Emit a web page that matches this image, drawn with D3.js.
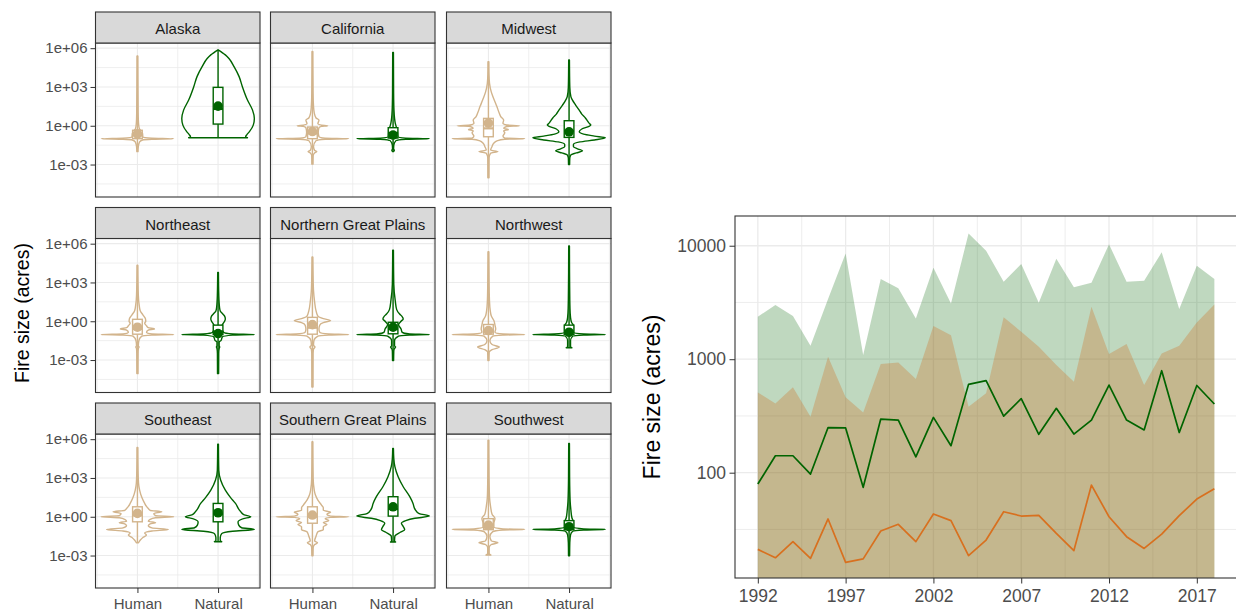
<!DOCTYPE html>
<html>
<head>
<meta charset="utf-8">
<script src="https://cdn.jsdelivr.net/npm/d3@7"></script>
<style>
  body { margin: 0; background: #fff; }
  svg { display: block; }
  text { font-family: "Liberation Sans", Arial, Helvetica, sans-serif; }
</style>
</head>
<body>
<svg id="chart" width="1236" height="612"></svg>
<script>
// ---------- Fire size distributions by region and cause (violins, log10 acres) ----------
const regions = ["Alaska", "California", "Midwest", "Northeast", "Northern Great Plains",
                 "Northwest", "Southeast", "Southern Great Plains", "Southwest"];
const causes = ["Human", "Natural"];
const sizeTicks = [1e-3, 1, 1e3, 1e6];

// Each profile: [log10(fire size), relative density width]
const humanViolins = [
  [[-2.0,0.015],[-1.6,0.025],[-1.25,0.06],[-1.1,0.14],[-1.04,0.4],[-1.0,1.0],[-0.96,0.4],[-0.88,0.15],[-0.6,0.14],[-0.4,0.1],[-0.2,0.05],[0.2,0.03],[1.0,0.02],[3.0,0.015],[5.4,0.01]],
  [[-2.97,0.015],[-2.3,0.02],[-2.1,0.06],[-2.0,0.12],[-1.9,0.06],[-1.6,0.03],[-1.15,0.1],[-1.04,0.35],[-1.0,1.0],[-0.96,0.35],[-0.85,0.18],[-0.5,0.16],[-0.15,0.18],[-0.05,0.25],[0.0,0.42],[0.05,0.25],[0.15,0.15],[0.45,0.18],[0.6,0.1],[1.0,0.05],[1.5,0.03],[2.5,0.018],[5.74,0.01]],
  [[-4.03,0.015],[-2.5,0.018],[-2.12,0.06],[-2.0,0.26],[-1.88,0.06],[-1.6,0.1],[-1.37,0.14],[-1.15,0.25],[-1.04,0.45],[-1.0,1.0],[-0.96,0.45],[-0.8,0.4],[-0.55,0.45],[-0.38,0.42],[-0.3,0.55],[-0.2,0.42],[-0.06,0.5],[0.0,0.86],[0.06,0.5],[0.2,0.4],[0.44,0.42],[0.7,0.34],[0.96,0.3],[1.5,0.23],[1.99,0.16],[2.6,0.08],[3.28,0.03],[4.0,0.015],[4.96,0.01]],
  [[-4.05,0.015],[-2.5,0.018],[-2.1,0.025],[-2.0,0.045],[-1.9,0.025],[-1.5,0.04],[-1.15,0.12],[-1.07,0.4],[-1.03,1.0],[-0.99,0.4],[-0.85,0.25],[-0.68,0.3],[-0.59,0.47],[-0.5,0.3],[-0.35,0.25],[-0.15,0.2],[0.0,0.23],[0.2,0.22],[0.5,0.15],[0.8,0.08],[1.2,0.05],[2.0,0.025],[4.33,0.01]],
  [[-5.08,0.015],[-2.5,0.018],[-2.15,0.03],[-2.0,0.07],[-1.85,0.03],[-1.5,0.04],[-1.15,0.15],[-1.07,0.45],[-1.03,1.0],[-0.99,0.45],[-0.85,0.2],[-0.6,0.18],[-0.3,0.2],[-0.1,0.3],[0.05,0.5],[0.2,0.3],[0.4,0.15],[0.8,0.1],[1.5,0.06],[2.36,0.03],[3.5,0.018],[4.97,0.01]],
  [[-3.03,0.015],[-2.4,0.02],[-2.2,0.1],[-2.0,0.3],[-1.8,0.1],[-1.5,0.04],[-1.15,0.12],[-1.07,0.4],[-1.03,1.0],[-0.99,0.4],[-0.85,0.18],[-0.6,0.2],[-0.3,0.18],[0.05,0.15],[0.4,0.08],[0.82,0.05],[1.5,0.03],[3.0,0.018],[5.38,0.01]],
  [[-2.01,0.03],[-1.8,0.08],[-1.6,0.15],[-1.42,0.25],[-1.25,0.2],[-1.1,0.4],[-0.98,0.85],[-0.86,0.4],[-0.7,0.3],[-0.55,0.35],[-0.46,0.5],[-0.35,0.3],[-0.2,0.35],[-0.08,0.5],[0.0,1.0],[0.08,0.5],[0.25,0.45],[0.39,0.67],[0.5,0.35],[0.64,0.3],[0.8,0.25],[1.03,0.2],[1.5,0.12],[2.06,0.06],[2.6,0.03],[3.5,0.018],[5.36,0.01]],
  [[-3.02,0.015],[-2.4,0.02],[-2.15,0.06],[-2.01,0.14],[-1.87,0.06],[-1.5,0.1],[-1.16,0.15],[-1.0,0.3],[-0.77,0.3],[-0.6,0.4],[-0.45,0.3],[-0.3,0.45],[-0.15,0.35],[-0.05,0.5],[0.0,1.0],[0.05,0.5],[0.2,0.4],[0.35,0.5],[0.5,0.3],[0.7,0.3],[0.9,0.25],[1.29,0.15],[1.7,0.08],[2.06,0.05],[3.0,0.02],[5.8,0.01]],
  [[-2.96,0.07],[-2.85,0.02],[-2.4,0.02],[-2.15,0.08],[-2.01,0.26],[-1.87,0.08],[-1.5,0.04],[-1.15,0.12],[-1.02,0.4],[-0.98,1.0],[-0.94,0.4],[-0.8,0.15],[-0.5,0.15],[-0.13,0.18],[0.2,0.1],[0.77,0.06],[1.5,0.03],[3.0,0.018],[5.93,0.01]]
];

const naturalViolins = [
  [[-0.93,0.81],[-0.85,0.76],[-0.7,0.79],[-0.47,0.86],[0.05,0.97],[0.57,1.0],[1.21,0.95],[1.99,0.81],[3.02,0.67],[3.8,0.58],[4.57,0.44],[5.2,0.3],[5.48,0.2],[5.87,0.0]],
  [[-2.0,0.015],[-1.9,0.035],[-1.8,0.015],[-1.5,0.02],[-1.15,0.08],[-1.04,0.35],[-1.0,1.0],[-0.96,0.35],[-0.85,0.13],[-0.5,0.12],[-0.2,0.1],[0.2,0.06],[0.6,0.04],[1.2,0.025],[2.5,0.015],[5.66,0.01]],
  [[-3.0,0.015],[-2.5,0.02],[-2.25,0.05],[-2.1,0.2],[-1.94,0.37],[-1.8,0.25],[-1.6,0.12],[-1.45,0.12],[-1.25,0.3],[-1.1,0.7],[-0.93,1.0],[-0.8,0.7],[-0.65,0.4],[-0.47,0.28],[-0.25,0.35],[-0.05,0.55],[0.05,0.6],[0.2,0.55],[0.4,0.5],[0.6,0.45],[0.9,0.35],[1.21,0.28],[1.6,0.18],[2.0,0.09],[2.25,0.05],[3.0,0.02],[5.09,0.01]],
  [[-4.05,0.015],[-2.5,0.018],[-2.1,0.03],[-2.0,0.045],[-1.9,0.03],[-1.6,0.03],[-1.5,0.08],[-1.2,0.12],[-1.07,0.4],[-1.03,1.0],[-0.99,0.4],[-0.85,0.15],[-0.5,0.1],[-0.26,0.12],[0.0,0.18],[0.18,0.2],[0.4,0.18],[0.56,0.13],[0.8,0.06],[1.08,0.04],[2.0,0.02],[3.77,0.01]],
  [[-3.03,0.015],[-2.3,0.02],[-2.1,0.04],[-2.0,0.07],[-1.9,0.04],[-1.5,0.04],[-1.15,0.15],[-1.07,0.45],[-1.03,1.0],[-0.99,0.45],[-0.85,0.25],[-0.6,0.22],[-0.26,0.15],[0.0,0.22],[0.18,0.28],[0.4,0.24],[0.56,0.18],[0.9,0.1],[1.59,0.06],[2.87,0.02],[5.49,0.01]],
  [[-2.05,0.08],[-1.95,0.04],[-1.5,0.04],[-1.15,0.1],[-1.07,0.4],[-1.03,1.0],[-0.99,0.4],[-0.85,0.12],[-0.6,0.12],[-0.33,0.12],[-0.1,0.07],[0.3,0.04],[1.0,0.025],[3.0,0.015],[5.82,0.01]],
  [[-1.93,0.1],[-1.85,0.06],[-1.6,0.06],[-1.3,0.1],[-1.12,0.4],[-0.98,1.0],[-0.85,0.65],[-0.65,0.57],[-0.4,0.55],[-0.15,0.7],[0.0,0.9],[0.15,0.72],[0.4,0.62],[1.03,0.48],[1.5,0.34],[2.06,0.2],[2.84,0.07],[3.6,0.02],[5.62,0.01]],
  [[-1.95,0.07],[-1.85,0.04],[-1.5,0.05],[-1.2,0.2],[-1.0,0.32],[-0.75,0.28],[-0.5,0.23],[-0.3,0.35],[-0.12,0.6],[0.05,1.0],[0.25,0.72],[0.6,0.6],[1.03,0.55],[1.55,0.46],[2.32,0.28],[3.09,0.14],[3.87,0.05],[4.5,0.02],[5.28,0.01]],
  [[-3.02,0.015],[-2.0,0.02],[-1.4,0.04],[-1.12,0.1],[-1.02,0.4],[-0.98,1.0],[-0.94,0.4],[-0.8,0.12],[-0.6,0.12],[-0.39,0.12],[-0.1,0.08],[0.52,0.05],[1.2,0.03],[3.0,0.015],[5.67,0.01]]
];

// Box summaries: [q1, median, q3, mean] in log10 acres
const humanBoxes = [
  [-1.0,-0.75,-0.35,-0.62], [-1.0,-0.6,-0.1,-0.45], [-0.85,-0.2,0.57,0.2],
  [-1.0,-0.6,0.15,-0.46], [-1.0,-0.5,0.3,-0.26], [-1.0,-0.8,-0.25,-0.72],
  [-0.39,0.1,0.77,0.26], [-0.5,0.0,0.77,0.13], [-1.0,-0.85,-0.15,-0.64]
];
const naturalBoxes = [
  [0.13,1.3,2.97,1.52], [-0.95,-0.55,-0.15,-0.72], [-0.9,-0.4,0.39,-0.47],
  [-1.03,-0.8,-0.3,-0.95], [-0.97,-0.6,-0.08,-0.46], [-1.03,-0.8,-0.3,-0.85],
  [-0.39,0.2,1.03,0.31], [0.05,0.6,1.55,0.77], [-1.0,-0.85,-0.3,-0.77]
];

// ---------- Yearly fire size (acres) ----------
const years = [1992,1993,1994,1995,1996,1997,1998,1999,2000,2001,2002,2003,2004,2005,
               2006,2007,2008,2009,2010,2011,2012,2013,2014,2015,2016,2017,2018];
const naturalUpper = [2370,3000,2400,1315,3400,8550,1090,5080,4210,2290,6400,3100,12800,9040,
                      4820,6890,3150,7680,4300,4720,10280,4820,4920,8740,2770,6660,5080];
const humanUpper = [510,408,565,311,1050,461,340,906,937,668,1960,1630,382,500,
                    2340,1750,1290,889,634,2900,1110,1360,592,1125,1315,2110,3040];
const naturalMean = [79.4,141,141,97.3,250,248,74.3,297,291,138,307,173,600,647,
                     315,449,218,369,219,291,592,291,238,792,226,587,403];
const humanMean = [21.1,17.8,24.7,17.6,39.1,16.2,17.4,30.6,35.1,24.7,43.3,37.8,18.6,25.5,
                   45.3,41.5,42.1,29.2,20.6,77.8,40.9,27.3,21.5,28.8,41.8,58.6,72.3];
const yearTicks = [1992,1997,2002,2007,2012,2017];
const acreTicks = [100,1000,10000];

// ---------- Styling ----------
const HUMAN = "#D2B48C", NATURAL = "#006400", ORANGE = "#D8701F";
const GRID = "#ebebeb", FRAME = "#333333", TICKTXT = "#4d4d4d";
const svg = d3.select("#chart");

function styleAxis(sel, size) {
  sel.select(".domain").remove();
  sel.selectAll(".tick line").attr("stroke", FRAME).attr("stroke-width", 1);
  sel.selectAll(".tick text").attr("fill", TICKTXT).attr("font-size", size)
     .style("font-family", '"Liberation Sans", Arial, sans-serif');
}

const sci = v => {
  const e = Math.round(Math.log10(v));
  return "1e" + (e < 0 ? "-" : "+") + String(Math.abs(e)).padStart(2, "0");
};

// ---------- Faceted violin panels ----------
const colX = [95.5, 270.5, 446.5], rowY = [12, 207.5, 403];
const panelW = 164.5, stripH = 31, panelH = 154;
const majorExp = [-3, 0, 3, 6], minorExp = [-4.5, -1.5, 1.5, 4.5];
const LW = 1.4;

regions.forEach((name, i) => {
  const c = i % 3, r = Math.floor(i / 3);
  const px = colX[c], py = rowY[r] + stripH;
  const x = d3.scalePoint().domain(causes).range([px, px + panelW]).padding(0.52);
  const y = d3.scaleLog().domain([10 ** -5.51, 10 ** 6.4]).range([py + panelH, py]);
  const step = x.step();
  const g = svg.append("g");

  g.append("rect").attr("x", px).attr("y", py).attr("width", panelW).attr("height", panelH)
    .attr("fill", "#fff");

  // grid
  minorExp.forEach(e => g.append("line").attr("x1", px).attr("x2", px + panelW)
    .attr("y1", y(10 ** e)).attr("y2", y(10 ** e)).attr("stroke", GRID).attr("stroke-width", 0.8));
  majorExp.forEach(e => g.append("line").attr("x1", px).attr("x2", px + panelW)
    .attr("y1", y(10 ** e)).attr("y2", y(10 ** e)).attr("stroke", GRID).attr("stroke-width", 1.1));
  const xm = [x("Human") - step / 2, x("Human") + step / 2, x("Natural") + step / 2];
  xm.forEach(v => g.append("line").attr("x1", v).attr("x2", v).attr("y1", py).attr("y2", py + panelH)
    .attr("stroke", GRID).attr("stroke-width", 0.8));
  causes.forEach(k => g.append("line").attr("x1", x(k)).attr("x2", x(k)).attr("y1", py).attr("y2", py + panelH)
    .attr("stroke", GRID).attr("stroke-width", 1.1));

  // violins with box summaries
  const half = 0.45 * step, boxHalf = 0.06 * step;
  [[humanViolins[i], humanBoxes[i], "Human", HUMAN],
   [naturalViolins[i], naturalBoxes[i], "Natural", NATURAL]].forEach(([prof, box, cause, col]) => {
    const cx = x(cause);
    const area = d3.area()
      .y(d => y(10 ** d[0]))
      .x0(d => cx - d[1] * half)
      .x1(d => cx + d[1] * half)
      .curve(d3.curveMonotoneY);
    g.append("path").attr("d", area(prof)).attr("fill", "none")
      .attr("stroke", col).attr("stroke-width", LW).attr("stroke-linejoin", "round");
    const lo = prof[0][0], hi = prof[prof.length - 1][0];
    g.append("line").attr("x1", cx).attr("x2", cx).attr("y1", y(10 ** lo)).attr("y2", y(10 ** hi))
      .attr("stroke", col).attr("stroke-width", LW);
    g.append("rect").attr("x", cx - boxHalf).attr("width", boxHalf * 2)
      .attr("y", y(10 ** box[2])).attr("height", y(10 ** box[0]) - y(10 ** box[2]))
      .attr("fill", "#fff").attr("stroke", col).attr("stroke-width", LW);
    g.append("line").attr("x1", cx - boxHalf).attr("x2", cx + boxHalf)
      .attr("y1", y(10 ** box[1])).attr("y2", y(10 ** box[1]))
      .attr("stroke", col).attr("stroke-width", 2.2);
    g.append("circle").attr("cx", cx).attr("cy", y(10 ** box[3])).attr("r", 4.8).attr("fill", col);
  });

  // panel frame and strip
  g.append("rect").attr("x", px).attr("y", py).attr("width", panelW).attr("height", panelH)
    .attr("fill", "none").attr("stroke", FRAME).attr("stroke-width", 1.1);
  g.append("rect").attr("x", px).attr("y", rowY[r]).attr("width", panelW).attr("height", stripH)
    .attr("fill", "#d9d9d9").attr("stroke", FRAME).attr("stroke-width", 1.1);
  g.append("text").attr("x", px + panelW / 2).attr("y", rowY[r] + stripH / 2 + 1)
    .attr("text-anchor", "middle").attr("dominant-baseline", "central")
    .attr("font-size", 15).attr("fill", "#1a1a1a").text(name);

  if (c === 0) {
    g.append("g").attr("transform", `translate(${px},0)`)
      .call(d3.axisLeft(y).tickValues(sizeTicks).tickFormat(sci).tickSize(5).tickPadding(3))
      .call(s => styleAxis(s, 15));
  }
  if (r === 2) {
    g.append("g").attr("transform", `translate(0,${py + panelH})`)
      .call(d3.axisBottom(x).tickSize(5).tickPadding(5))
      .call(s => styleAxis(s, 15));
  }
});

svg.append("text").attr("transform", "translate(22,313) rotate(-90)")
  .attr("text-anchor", "middle").attr("dominant-baseline", "central")
  .attr("font-size", 19.5).attr("fill", "#000").text("Fire size (acres)");

// ---------- Yearly series panel ----------
const R = { left: 735, top: 216, right: 1237.2, bottom: 578 };
const xt = d3.scaleLinear().domain([1990.7, 2019.3]).range([R.left, R.right]);
const yt = d3.scaleLog().domain([10 ** 1.072, 10 ** 4.262]).range([R.bottom, R.top]);
const gr = svg.append("g");

gr.append("defs").append("clipPath").attr("id", "tsClip").append("rect")
  .attr("x", R.left).attr("y", R.top).attr("width", R.right - R.left).attr("height", R.bottom - R.top);

gr.append("rect").attr("x", R.left).attr("y", R.top).attr("width", R.right - R.left)
  .attr("height", R.bottom - R.top).attr("fill", "#fff");

[1.5, 2.5, 3.5].forEach(e => gr.append("line").attr("x1", R.left).attr("x2", R.right)
  .attr("y1", yt(10 ** e)).attr("y2", yt(10 ** e)).attr("stroke", GRID).attr("stroke-width", 0.9));
acreTicks.forEach(v => gr.append("line").attr("x1", R.left).attr("x2", R.right)
  .attr("y1", yt(v)).attr("y2", yt(v)).attr("stroke", GRID).attr("stroke-width", 1.3));
yearTicks.map(v => v + 2.5).filter(v => v < 2019.3).forEach(v => gr.append("line")
  .attr("x1", xt(v)).attr("x2", xt(v)).attr("y1", R.top).attr("y2", R.bottom)
  .attr("stroke", GRID).attr("stroke-width", 0.9));
yearTicks.forEach(v => gr.append("line").attr("x1", xt(v)).attr("x2", xt(v))
  .attr("y1", R.top).attr("y2", R.bottom).attr("stroke", GRID).attr("stroke-width", 1.3));

const plot = gr.append("g").attr("clip-path", "url(#tsClip)");
const areaOf = vals => d3.area().x((d, k) => xt(years[k])).y0(yt.range()[0]).y1(d => yt(d))(vals);
const lineOf = vals => d3.line().x((d, k) => xt(years[k])).y(d => yt(d))(vals);

plot.append("path").attr("d", areaOf(naturalUpper)).attr("fill", NATURAL).attr("fill-opacity", 0.25);
plot.append("path").attr("d", areaOf(humanUpper)).attr("fill", "#D2691E").attr("fill-opacity", 0.3);
plot.append("path").attr("d", lineOf(naturalMean)).attr("fill", "none")
  .attr("stroke", NATURAL).attr("stroke-width", 1.7).attr("stroke-linejoin", "round");
plot.append("path").attr("d", lineOf(humanMean)).attr("fill", "none")
  .attr("stroke", ORANGE).attr("stroke-width", 1.7).attr("stroke-linejoin", "round");

gr.append("rect").attr("x", R.left).attr("y", R.top).attr("width", R.right - R.left)
  .attr("height", R.bottom - R.top).attr("fill", "none").attr("stroke", FRAME).attr("stroke-width", 1.1);

gr.append("g").attr("transform", `translate(${R.left},0)`)
  .call(d3.axisLeft(yt).tickValues(acreTicks).tickFormat(d3.format("d")).tickSize(5.5).tickPadding(3.5))
  .call(s => styleAxis(s, 17.5));
gr.append("g").attr("transform", `translate(0,${R.bottom})`)
  .call(d3.axisBottom(xt).tickValues(yearTicks).tickFormat(d3.format("d")).tickSize(5.5).tickPadding(6))
  .call(s => styleAxis(s, 17.5));

svg.append("text").attr("transform", `translate(652,${(R.top + R.bottom) / 2}) rotate(-90)`)
  .attr("text-anchor", "middle").attr("dominant-baseline", "central")
  .attr("font-size", 23).attr("fill", "#000").text("Fire size (acres)");
</script>
</body>
</html>
